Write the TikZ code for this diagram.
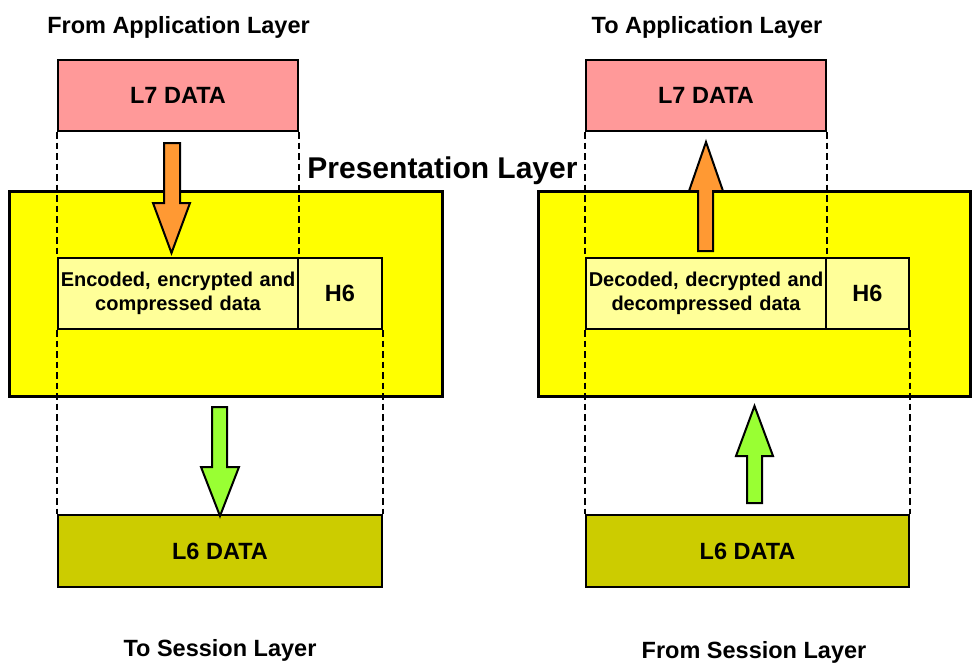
\documentclass[tikz,border=0pt]{standalone}
\usepackage{fontspec}
\setmainfont{Liberation Sans}
\definecolor{pinkdata}{HTML}{FF9999}
\definecolor{layeryellow}{HTML}{FFFF00}
\definecolor{paleyellow}{HTML}{FFFF99}
\definecolor{olivedata}{HTML}{CCCC00}
\definecolor{arroworange}{HTML}{FF9933}
\definecolor{arrowgreen}{HTML}{99FF33}
\tikzset{
  databox/.style={draw,line width=2pt,inner sep=0pt,minimum height=71pt,font=\fontsize{23.5}{28}\selectfont\bfseries},
  layerbox/.style={draw,line width=3pt,fill=layeryellow,inner sep=0pt,minimum height=205pt},
  guide/.style={line width=2pt,dash pattern=on 6.5pt off 4pt},
  blockarrow/.style={draw,line width=2pt,line join=miter},
  title/.style={font=\fontsize{23.5}{28}\selectfont\bfseries,anchor=base}
}
\begin{document}
\begin{tikzpicture}[x=1pt,y=-1pt]
        \useasboundingbox (0,0) rectangle (980,672);
        % sending side
        \node[title] (fromapp) at (178.5,33) {From Application Layer};
        \node[layerbox,minimum width=433pt] (layA) at (225.5,293.5) {};
        \node[databox,fill=pinkdata,minimum width=240pt] (l7A) at (178,95.5) {L7 DATA};
        \node[databox,fill=paleyellow,minimum width=240pt,text width=236pt,align=center,font=\fontsize{20}{24}\selectfont\bfseries] (datA) at (178,293.5) {Encoded, encrypted and\\compressed data};
        \node[databox,fill=paleyellow,minimum width=84pt] (h6A) at (340,293.5) {H6};
        \node[databox,fill=olivedata,minimum width=324pt,minimum height=72pt] (l6A) at (220,551) {L6 DATA};
        \node[title] (tosess) at (220,656) {To Session Layer};
        \draw[guide] (l7A.south west) -- (datA.north west);
        \draw[guide] (l7A.south east) -- (datA.north east);
        \draw[guide] (datA.south west) -- (l6A.north west);
        \draw[guide] (h6A.south east) -- (l6A.north east);
        \draw[blockarrow,fill=arroworange] (164,143) -- (180,143) -- (180,203) -- (190,203) -- (171.5,253) -- (153,203) -- (164,203) -- cycle;
        \draw[blockarrow,fill=arrowgreen] (212,407) -- (227,407) -- (227,467) -- (239,467) -- (220,516) -- (201,467) -- (212,467) -- cycle;
        % middle
        \node[title,font=\fontsize{30}{36}\selectfont\bfseries] (pres) at (442.5,178) {Presentation Layer};
        % receiving side
        \node[title] (toapp) at (707,33) {To Application Layer};
        \node[layerbox,minimum width=432pt] (layB) at (754,293.5) {};
        \node[databox,fill=pinkdata,minimum width=240pt] (l7B) at (706,95.5) {L7 DATA};
        \node[databox,fill=paleyellow,minimum width=240pt,text width=236pt,align=center,font=\fontsize{20}{24}\selectfont\bfseries] (datB) at (706,293.5) {Decoded, decrypted and\\decompressed data};
        \node[databox,fill=paleyellow,minimum width=83pt] (h6B) at (867.5,293.5) {H6};
        \node[databox,fill=olivedata,minimum width=323pt,minimum height=72pt] (l6B) at (747.5,551) {L6 DATA};
        \node[title] (fromsess) at (754,658) {From Session Layer};
        \draw[guide] (l7B.south west) -- (datB.north west);
        \draw[guide] (l7B.south east) -- (datB.north east);
        \draw[guide] (datB.south west) -- (l6B.north west);
        \draw[guide] (h6B.south east) -- (l6B.north east);
        \draw[blockarrow,fill=arroworange] (698,251) -- (713,251) -- (713,191) -- (723,191) -- (706,142) -- (689,191) -- (698,191) -- cycle;
        \draw[blockarrow,fill=arrowgreen] (747,503) -- (762,503) -- (762,456) -- (773,456) -- (754.5,406) -- (736,456) -- (747,456) -- cycle;
    \end{tikzpicture}
\end{document}
